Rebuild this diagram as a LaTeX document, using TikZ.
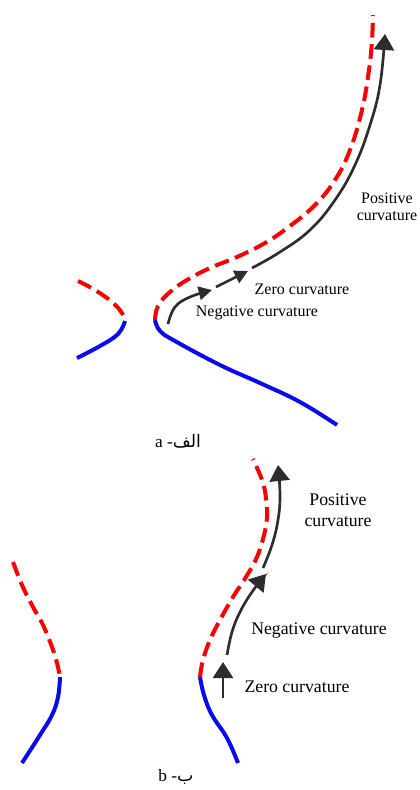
\documentclass[tikz,border=0pt]{standalone}
\usepackage{fontspec}
\setmainfont{Liberation Serif}
\newfontfamily\arabicfont[Script=Arabic]{DejaVu Sans}
\TeXXeTstate=1
\usetikzlibrary{arrows.meta}
\definecolor{cred}{RGB}{250,0,0}
\definecolor{cblue}{RGB}{10,10,235}
\definecolor{cdark}{RGB}{45,45,45}
\tikzset{
  reddash/.style={draw=cred, line width=3pt, dash pattern=on 11pt off 5pt},
  bluesolid/.style={draw=cblue, line width=3pt},
  bigarrow/.style={draw=cdark, line width=2pt, -{Triangle[length=12pt,width=15pt]}},
  smallarrow/.style={draw=cdark, line width=2pt, -{Triangle[length=10pt,width=10pt]}},
  lbla/.style={font=\fontsize{12}{13}\selectfont, inner sep=0pt},
  lblb/.style={font=\fontsize{13.3}{16}\selectfont, inner sep=0pt},
  capt/.style={font=\fontsize{13}{15}\selectfont, inner sep=0pt}
}
\begin{document}
\begin{tikzpicture}[x=0.75pt,y=-0.75pt]
\useasboundingbox[fill=white] (0,0) rectangle (419,790);
% ---------- panel a ----------
\draw[reddash] plot[smooth,tension=0.7] coordinates {(78,281) (95,290) (112,302) (122,313) (125,321)};
\draw[bluesolid] plot[smooth,tension=0.7] coordinates {(125,321) (118,334) (100,346) (77,358)};
\draw[reddash] plot[smooth,tension=0.7] coordinates {(155,320) (158,306) (170,292) (187,280) (210,268) (237,257) (265,243) (290,226) (315,205) (335,180) (350,150) (362,110) (369,70) (372,40) (373,15)};
\draw[bluesolid] plot[smooth,tension=0.7] coordinates {(155,320) (160,331) (175,341) (220,365) (260,383) (300,402) (337,425)};
\draw[bigarrow] plot[smooth,tension=0.7] coordinates {(252,268) (280,252) (310,230) (335,200) (355,165) (370,125) (380,85) (385,34)};
\draw[smallarrow] plot[smooth,tension=0.7] coordinates {(168,324) (175,307) (190,297) (212,290)};
\draw[smallarrow] (216,287) -- (248,271);
\node[lbla, align=center] (posa) at (387,207) {Positive\\curvature};
\node[lbla] (zeroa) at (302,289) {Zero curvature};
\node[lbla] (nega) at (257,313) {Negative curvature};
\node[capt] (capa) at (178,441) {a -{\arabicfont\beginR الف\endR}};
% ---------- panel b ----------
\draw[reddash] plot[smooth,tension=0.7] coordinates {(13,562) (22,585) (33,607) (43,625) (52,647) (57,663) (60,677)};
\draw[bluesolid] plot[smooth,tension=0.7] coordinates {(60,677) (58,697) (52,715) (40,735) (22,763)};
\draw[reddash] plot[smooth,tension=0.7] coordinates {(200,677) (203,660) (210,640) (220,620) (233,597) (246,577) (257,557) (264,535) (267,517) (266,498) (263,483) (258,470) (253,459)};
\draw[bluesolid] plot[smooth,tension=0.7] coordinates {(200,677) (204,695) (212,715) (227,738) (238,763)};
\draw[bigarrow] (223,698) -- (223,662);
\draw[bigarrow] plot[smooth,tension=0.7] coordinates {(227,655) (232,632) (240,612) (252,592) (266,574)};
\draw[bigarrow] plot[smooth,tension=0.7] coordinates {(263,568) (272,545) (278,520) (280,495) (278,465)};
\node[lblb, align=center] (posb) at (338,510) {Positive\\curvature};
\node[lblb] (negb) at (319,631) {Negative curvature};
\node[lblb] (zerob) at (297,687) {Zero curvature};
\node[capt] (capb) at (176,777) {b -{\arabicfont\beginR ب\endR}};
\end{tikzpicture}
\end{document}
